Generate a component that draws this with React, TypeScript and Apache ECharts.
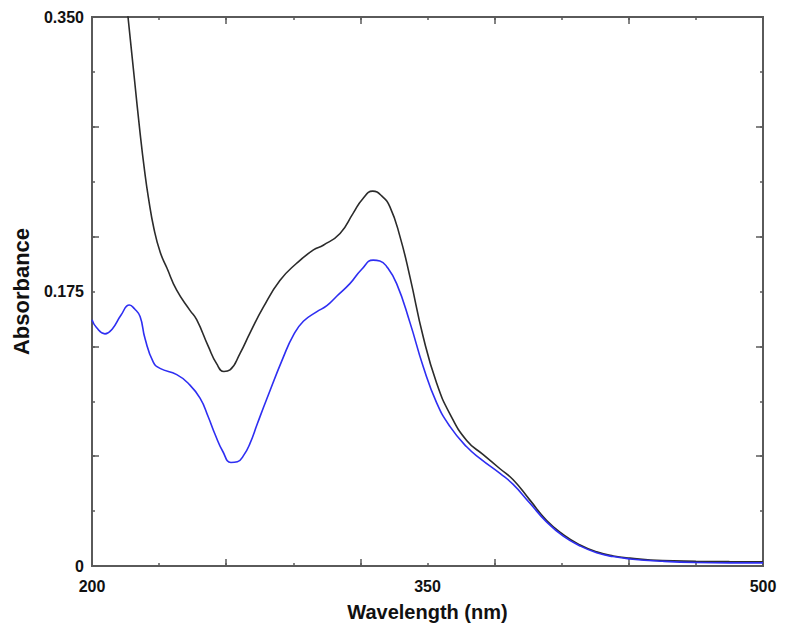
import React, { useEffect, useRef } from "react";
import * as echarts from "echarts";

const xTickLabels = [200, 350, 500];
const yTickLabels = ["0", "0.175", "0.350"];

const blackWavelength = [214.8, 216.1, 219, 221.5, 223.5, 225.2, 227.7, 230.5, 233.5, 237.8, 243.8, 246.8, 252, 255.7, 259, 261.7, 266.2, 270.6, 276.6, 284, 291.5, 299, 303.4, 310.9, 316.8, 321, 325.5, 329.5, 333.2, 337.7, 342.2, 348.1, 354.1, 360, 367.5, 374.9, 382.4, 388.3, 395.8, 403.3, 410.7, 418.2, 425.6, 433, 440.5, 455, 470, 485, 500];
const blackAbsorbance = [0.368, 0.35, 0.31, 0.276, 0.252, 0.235, 0.215, 0.2, 0.19, 0.176, 0.163, 0.157, 0.14, 0.129, 0.124, 0.125, 0.1356, 0.1485, 0.165, 0.182, 0.193, 0.2015, 0.2045, 0.212, 0.225, 0.234, 0.239, 0.236, 0.229, 0.21, 0.184, 0.146, 0.1165, 0.097, 0.08, 0.071, 0.062, 0.055, 0.042, 0.029, 0.02, 0.0134, 0.009, 0.0064, 0.005, 0.0034, 0.003, 0.0028, 0.0027];

const blueWavelength = [200, 202, 205.8, 209, 213, 216.7, 219, 221.5, 223.7, 227.4, 230.4, 237.9, 243, 248.3, 252, 255, 258.5, 262.1, 265, 268, 270.6, 274, 278, 285.5, 290, 294.5, 300.4, 305, 309.4, 315.3, 320.5, 325.7, 328.7, 331.7, 336.2, 342.2, 348.1, 354.1, 360, 367.5, 374, 382.4, 388.3, 395.8, 403.3, 410.7, 418.2, 425.6, 433, 440.5, 455, 470, 485, 500];
const blueAbsorbance = [0.157, 0.152, 0.148, 0.151, 0.16, 0.1664, 0.164, 0.159, 0.145, 0.13, 0.126, 0.122, 0.1165, 0.107, 0.095, 0.084, 0.073, 0.066, 0.0665, 0.071, 0.078, 0.091, 0.106, 0.133, 0.147, 0.156, 0.162, 0.166, 0.172, 0.18, 0.189, 0.195, 0.1945, 0.191, 0.18, 0.155, 0.127, 0.104, 0.089, 0.076, 0.068, 0.059, 0.052, 0.04, 0.028, 0.019, 0.0128, 0.0085, 0.006, 0.0045, 0.003, 0.0022, 0.002, 0.002];

const zip = (xs: number[], ys: number[]) => xs.map((x, i) => [x, ys[i]]);

const AXIS_COLOR = "#5a5a5a";
const FONT = "Liberation Sans, Arial, sans-serif";

export default function App() {
  const ref = useRef<HTMLDivElement>(null);

  useEffect(() => {
    if (!ref.current) return;
    const chart = echarts.init(ref.current, undefined, { renderer: "svg" });

    const lineStyle = { color: AXIS_COLOR, width: 2 };
    const mkX = (position: "bottom" | "top", interval: number, len: number, labels: boolean, name?: string) => ({
      type: "value",
      position,
      min: 200,
      max: 500,
      interval,
      name,
      nameLocation: "middle",
      nameGap: 36,
      nameTextStyle: { fontFamily: FONT, fontWeight: "bold", fontSize: 20, color: "#111" },
      axisLine: { show: true, onZero: false, lineStyle },
      axisTick: { show: true, inside: true, length: len, lineStyle: { color: AXIS_COLOR, width: 1.5 } },
      axisLabel: {
        show: labels,
        margin: 12,
        fontFamily: FONT,
        fontWeight: "bold",
        fontSize: 16,
        color: "#111",
        formatter: (v: number) => (xTickLabels.some((t) => Math.abs(t - v) < 1e-6) ? String(Math.round(v)) : ""),
      },
      splitLine: { show: false },
    });
    const mkY = (position: "left" | "right", interval: number, len: number, labels: boolean, name?: string) => ({
      type: "value",
      position,
      min: 0,
      max: 0.35,
      interval,
      name,
      nameLocation: "middle",
      nameGap: 60,
      nameTextStyle: { fontFamily: FONT, fontWeight: "bold", fontSize: 22, color: "#111" },
      axisLine: { show: true, onZero: false, lineStyle },
      axisTick: { show: true, inside: true, length: len, lineStyle: { color: AXIS_COLOR, width: 1.5 } },
      axisLabel: {
        show: labels,
        margin: 8,
        fontFamily: FONT,
        fontWeight: "bold",
        fontSize: 16,
        color: "#111",
        formatter: (v: number) => {
          if (Math.abs(v) < 1e-6) return yTickLabels[0];
          if (Math.abs(v - 0.175) < 1e-6) return yTickLabels[1];
          if (Math.abs(v - 0.35) < 1e-6) return yTickLabels[2];
          return "";
        },
      },
      splitLine: { show: false },
    });

    chart.setOption({
      animation: false,
      backgroundColor: "#ffffff",
      grid: { left: 92, right: 22, top: 17, bottom: 69, containLabel: false },
      xAxis: [
        mkX("bottom", 30, 3, true, "Wavelength (nm)"),
        mkX("bottom", 60, 7, false),
        mkX("top", 30, 3, false),
        mkX("top", 60, 7, false),
      ],
      yAxis: [
        mkY("left", 0.035, 3, true, "Absorbance"),
        mkY("left", 0.07, 7, false),
        mkY("right", 0.035, 3, false),
        mkY("right", 0.07, 7, false),
      ],
      series: [
        {
          type: "line",
          xAxisIndex: 0,
          yAxisIndex: 0,
          data: zip(blackWavelength, blackAbsorbance),
          smooth: 0.5,
          showSymbol: false,
          clip: true,
          lineStyle: { color: "#2b2b2b", width: 1.6 },
        },
        {
          type: "line",
          xAxisIndex: 0,
          yAxisIndex: 0,
          data: zip(blueWavelength, blueAbsorbance),
          smooth: 0.5,
          showSymbol: false,
          clip: true,
          lineStyle: { color: "#2e2ef2", width: 1.6 },
        },
      ],
    });

    return () => chart.dispose();
  }, []);

  return (
    <div
      ref={ref}
      style={{ position: "absolute", left: 0, top: 0, width: 785, height: 635, background: "#fff" }}
    />
  );
}
